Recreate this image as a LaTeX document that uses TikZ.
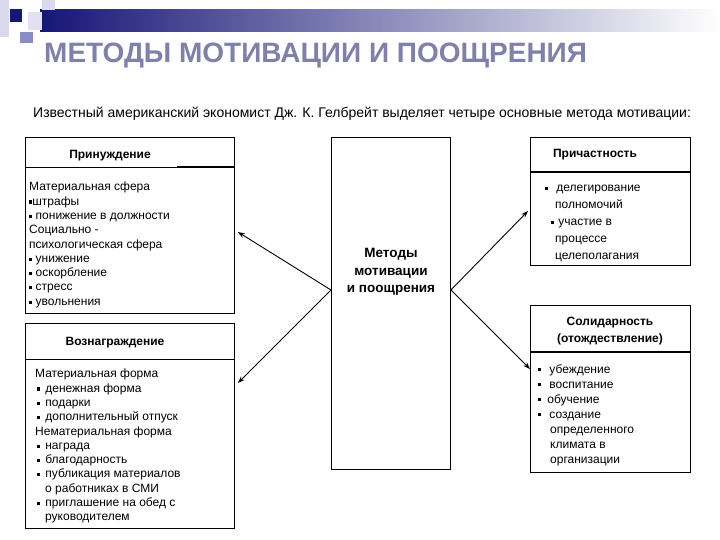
\documentclass[tikz,border=0pt]{standalone}
\usepackage{fontspec}
\setmainfont{Liberation Sans}
\usetikzlibrary{arrows.meta,positioning,calc}

\definecolor{titlegray}{RGB}{128,128,172}
\definecolor{bandnavy}{RGB}{22,22,118}
\definecolor{lavlight}{RGB}{218,218,238}
\definecolor{lavmid}{RGB}{140,140,196}

\newcommand{\bul}{\rule[0.25ex]{0.5ex}{0.5ex}}

\begin{document}
\begin{tikzpicture}[
      x=1pt, y=-1pt,
      font=\fontsize{12}{14.3}\selectfont,
      box/.style={draw, line width=0.9pt, anchor=north west, inner sep=0pt},
      txt/.style={anchor=north west, align=left, inner sep=0pt},
      head/.style={font=\fontsize{12}{17}\selectfont\bfseries, align=center, inner sep=0pt},
      arr/.style={-{Stealth[length=7pt, width=5pt]}, line width=0.9pt}
    ]
    \useasboundingbox (0,0) rectangle (720,540);

    % Header decoration
    \shade[left color=bandnavy, right color=white] (40,10) rectangle (720,32);
    \fill[lavlight] (0,0) rectangle (9,37);
    \fill[lavlight] (42,0) rectangle (55,10);
    \fill[lavlight!80] (28,12) rectangle (42,30);
    \fill[bandnavy] (10,9) rectangle (22,22);
    \fill[lavmid] (20,32) rectangle (33,43);

    \node[anchor=base west, inner sep=0pt, text=titlegray, font=\fontsize{28}{30}\selectfont\bfseries] (title) at (44,63) {МЕТОДЫ МОТИВАЦИИ И ПООЩРЕНИЯ};
    \node[anchor=base west, inner sep=0pt, font=\fontsize{14}{16}\selectfont] (intro) at (33,118) {Известный американский экономист Дж. К. Гелбрейт выделяет четыре основные метода мотивации:};

    % Boxes
    \node[box, minimum width=209pt, minimum height=176pt] (coer) at (25,137) {};
    \node[box, minimum width=209pt, minimum height=205pt] (rew)  at (25,323) {};
    \node[box, minimum width=119pt, minimum height=332pt] (methods) at (331,137) {};
    \node[box, minimum width=160pt, minimum height=128pt] (part) at (530,137) {};
    \node[box, minimum width=160pt, minimum height=167pt] (sol)  at (530,305) {};

    % Header lines
    \draw[line width=0.9pt] ($(coer.north west)+(0,30)$) -- ($(coer.north east)+(0,30)$);
    \draw[line width=2pt] ($(coer.north east)+(-58,30)$) -- ($(coer.north east)+(0,30)$);
    \draw[line width=0.9pt] ($(rew.north west)+(0,36)$) -- ($(rew.north east)+(0,36)$);
    \draw[line width=2pt] ($(part.north west)+(0,35)$) -- ($(part.north east)+(0,35)$);
    \draw[line width=2pt] ($(sol.north west)+(0,47)$) -- ($(sol.north east)+(0,47)$);

    % Headings
    \node[head] (coerHead) at (110,156) {Принуждение};
    \node[head] (rewHead)  at (115,343) {Вознаграждение};
    \node[head] (partHead) at (595,155) {Причастность};
    \node[head] (solHead)  at (610,331) {Солидарность\\(отождествление)};
    \node[head, font=\fontsize{13.5}{17.5}\selectfont\bfseries] (methTxt) at (391,272) {Методы\\мотивации\\и поощрения};

    % Box contents
    \node[txt] (coerTxt) at (29,182) {Материальная сфера\\
      \bul штрафы\\
      \bul\ понижение в должности\\
      Социально -\\
      психологическая сфера\\
      \bul\ унижение\\
      \bul\ оскорбление\\
      \bul\ стресс\\
      \bul\ увольнения};
    \node[txt] (rewTxt) at (35,369) {Материальная форма\\
      \hspace*{2pt}\bul\hspace{5pt}денежная форма\\
      \hspace*{2pt}\bul\hspace{5pt}подарки\\
      \hspace*{2pt}\bul\hspace{5pt}дополнительный отпуск\\
      Нематериальная форма\\
      \hspace*{2pt}\bul\hspace{5pt}награда\\
      \hspace*{2pt}\bul\hspace{5pt}благодарность\\
      \hspace*{2pt}\bul\hspace{5pt}публикация материалов\\
      \hspace*{10pt}о работниках в СМИ\\
      \hspace*{2pt}\bul\hspace{5pt}приглашение на обед с\\
      \hspace*{10pt}руководителем};
    \node[txt, font=\fontsize{12}{17}\selectfont] (partTxt) at (545,185) {\bul\hspace{8pt}делегирование\\
      \hspace*{10pt}полномочий\\
      \hspace*{6pt}\bul\hspace{4pt}участие в\\
      \hspace*{10pt}процессе\\
      \hspace*{10pt}целеполагания};
    \node[txt, font=\fontsize{12}{15}\selectfont] (solTxt) at (538,364) {\bul\hspace{8pt}убеждение\\
      \bul\hspace{8pt}воспитание\\
      \bul\hspace{6pt}обучение\\
      \bul\hspace{8pt}создание\\
      \hspace*{12pt}определенного\\
      \hspace*{12pt}климата в\\
      \hspace*{12pt}организации};

    % Arrows
    \coordinate (mL) at ($(methods.north west)+(0,153)$);
    \coordinate (mR) at ($(methods.north east)+(0,153)$);
    \coordinate (coerIn) at ($(coer.north east)+(3,95)$);
    \coordinate (rewIn)  at ($(rew.north east)+(3,60)$);
    \coordinate (partIn) at ($(part.north west)+(-2,74)$);
    \coordinate (solIn)  at ($(sol.north west)+(0,64)$);
    \draw[arr] (mL) -- (coerIn);
    \draw[arr] (mL) -- (rewIn);
    \draw[arr] (mR) -- (partIn);
    \draw[arr] (mR) -- (solIn);
  \end{tikzpicture}
\end{document}
